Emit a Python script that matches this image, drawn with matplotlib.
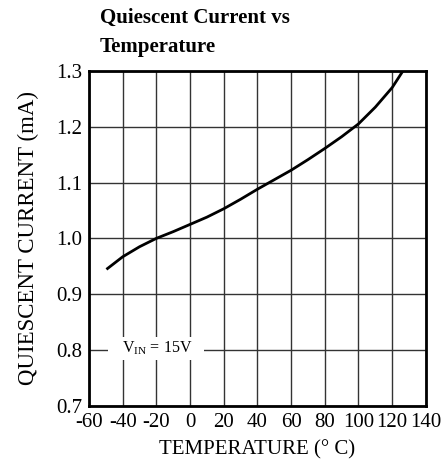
import matplotlib
matplotlib.use("Agg")
import matplotlib.pyplot as plt

# quiescent current vs temperature
temp_c = [-49, -40, -30, -20, -10, 0, 10, 20, 30, 40, 50, 60, 70, 80, 90, 100, 110, 120, 126]
current_ma = [0.946, 0.967, 0.985, 1.0, 1.012, 1.025, 1.038, 1.053, 1.070, 1.088, 1.105,
              1.122, 1.141, 1.161, 1.182, 1.205, 1.235, 1.270, 1.298]

x_ticks = list(range(-60, 141, 20))
y_ticks = [0.7, 0.8, 0.9, 1.0, 1.1, 1.2, 1.3]

plt.rcParams['font.family'] = ['Liberation Serif', 'DejaVu Serif']
plt.rcParams['axes.unicode_minus'] = False
plt.rcParams['mathtext.fontset'] = 'custom'
plt.rcParams['mathtext.rm'] = 'Liberation Serif'

fig = plt.figure(figsize=(4.45, 4.66), dpi=100)
ax = fig.add_axes([0.2, 0.129, 0.757, 0.719])

ax.plot(temp_c, current_ma, color='black', linewidth=2, zorder=3)

ax.set_xlim(-60, 140)
ax.set_ylim(0.7, 1.3)
ax.set_xticks(x_ticks)
ax.set_yticks(y_ticks)
ax.set_yticklabels([f"{v:.1f}" for v in y_ticks])
ax.tick_params(length=0, labelsize=15, pad=5)
ax.grid(True, color='#333333', linewidth=1)
for s in ax.spines.values():
    s.set_linewidth(2)

ax.set_xlabel('TEMPERATURE (° C)', fontsize=15, labelpad=6)
ax.set_ylabel('QUIESCENT CURRENT (mA)', fontsize=16.5, labelpad=12)

ax.text(-20.5, 0.796, '   ' + r'V$_{\rm IN}$ = 15V' + '   ', fontsize=11.5,
        va='baseline', ha='center',
        bbox=dict(facecolor='white', edgecolor='none', pad=2), zorder=4)

fig.text(0.225, 0.982, 'Quiescent Current vs\nTemperature', fontsize=15,
         fontweight='bold', va='top', ha='left', linespacing=1.6)

fig.savefig('out.png', dpi=100)
